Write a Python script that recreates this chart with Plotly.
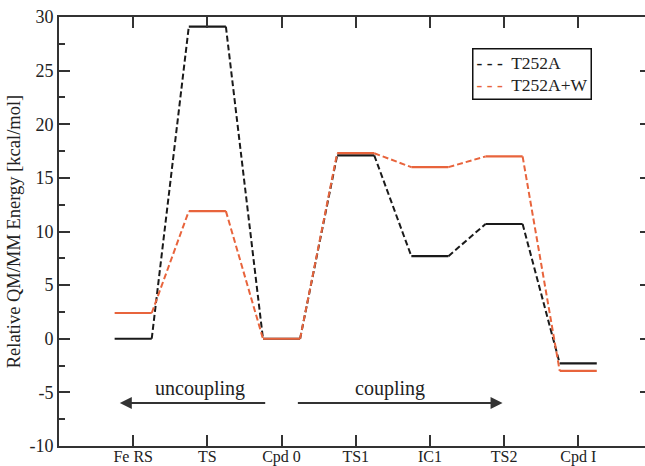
import plotly.graph_objects as go

states = ["Fe RS", "TS", "Cpd 0", "TS1", "IC1", "TS2", "Cpd I"]
t252a = [0.0, 29.1, 0.0, 17.1, 7.7, 10.7, -2.3]
t252a_w = [2.4, 11.9, 0.0, 17.3, 16.0, 17.0, -3.0]
series_names = ["T252A", "T252A+W"]
series_colors = ["#1a1a1a", "#E8643C"]
y_ticks = [-10, -5, 0, 5, 10, 15, 20, 25, 30]
y_ticktext = ["-10", "-5", "0", "5", "10", "15", "20", "25", "30"]

positions = list(range(1, len(states) + 1))
HALF = 0.25

fig = go.Figure()

def build(vals):
    sx, sy, dx, dy = [], [], [], []
    for i, (p, v) in enumerate(zip(positions, vals)):
        sx += [p - HALF, p + HALF, None]
        sy += [v, v, None]
        if i < len(vals) - 1:
            dx += [p + HALF, positions[i + 1] - HALF, None]
            dy += [v, vals[i + 1], None]
    return sx, sy, dx, dy

for name, vals, col in zip(series_names, [t252a, t252a_w], series_colors):
    sx, sy, dx, dy = build(vals)
    fig.add_trace(go.Scatter(x=dx, y=dy, mode="lines", name=name, showlegend=False,
                             line=dict(color=col, width=2, dash="6px,3px")))
    fig.add_trace(go.Scatter(x=sx, y=sy, mode="lines", showlegend=False,
                             line=dict(color=col, width=2.2)))

# invisible trace for right-side tick axis
fig.add_trace(go.Scatter(x=[None], y=[None], yaxis="y2", showlegend=False, hoverinfo="skip"))

axcol = "#333333"
font = "Liberation Serif"

fig.update_layout(
    width=645, height=466,
    margin=dict(l=59, r=0, t=17, b=20),
    paper_bgcolor="white", plot_bgcolor="white",
    font=dict(family=font, size=17, color="#222"),
    xaxis=dict(range=[0, 7.9], tickvals=positions, ticktext=states, automargin=False,
               ticks="inside", ticklen=11, tickwidth=2, tickcolor=axcol,
               showline=True, linecolor=axcol, linewidth=2, mirror="ticks",
               showgrid=False, zeroline=False, tickfont=dict(size=16, family=font),
               ticklabelstandoff=-5),
    yaxis=dict(range=[-10, 30], tickvals=y_ticks, ticktext=y_ticktext, automargin=False,
               ticks="inside", ticklen=11, tickwidth=2, tickcolor=axcol,
               showline=True, linecolor=axcol, linewidth=2,
               showgrid=False, zeroline=False, tickfont=dict(size=18, family=font),
               minor=dict(tickvals=[-7.5, -2.5, 2.5, 7.5, 12.5, 17.5, 22.5, 27.5],
                          ticks="inside", ticklen=6, tickwidth=2, tickcolor=axcol),
               title=dict(text="Relative QM/MM Energy [kcal/mol]",
                          font=dict(size=18.5, family=font), standoff=4)),
    yaxis2=dict(range=[-10, 30], overlaying="y", side="right", automargin=False,
                tickvals=[-5, 0, 5, 10, 15, 20, 25],
                ticks="inside", ticklen=5, tickwidth=2, tickcolor=axcol,
                showticklabels=False, showline=False, showgrid=False, zeroline=False),
    showlegend=False,
)

# legend box
legend_text = "<br>".join(
    f"<span style='color:{c}'><b>- - -</b></span>  {n}" for n, c in zip(series_names, series_colors)
)
fig.add_annotation(x=0.704, y=0.928, xref="paper", yref="paper", xanchor="left", yanchor="top",
                   text=legend_text, showarrow=False, align="left",
                   bordercolor="#111", borderwidth=1.5, borderpad=3, bgcolor="white",
                   font=dict(size=17.5, family=font, color="#222"))

arrow_y = -6.0
fig.add_annotation(x=0.82, y=arrow_y, ax=2.8, ay=arrow_y, xref="x", yref="y",
                   axref="x", ayref="y", text="", showarrow=True,
                   arrowhead=2, arrowsize=1.2, arrowwidth=2, arrowcolor=axcol)
fig.add_annotation(x=5.98, y=arrow_y, ax=3.2, ay=arrow_y, xref="x", yref="y",
                   axref="x", ayref="y", text="", showarrow=True,
                   arrowhead=2, arrowsize=1.2, arrowwidth=2, arrowcolor=axcol)
fig.add_annotation(x=1.9, y=-4.6, xref="x", yref="y", text="uncoupling",
                   showarrow=False, font=dict(size=20, family=font, color="#222"))
fig.add_annotation(x=4.46, y=-4.6, xref="x", yref="y", text="coupling",
                   showarrow=False, font=dict(size=20, family=font, color="#222"))

fig.write_html("out.html", config={"displayModeBar": False},
               post_script="document.body.style.margin='0px';")
